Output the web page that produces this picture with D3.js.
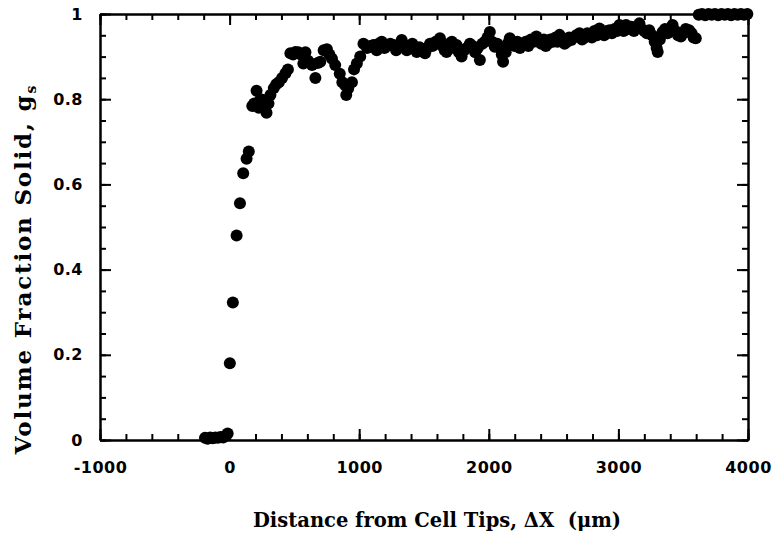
<!DOCTYPE html>
<html>
<head>
<meta charset="utf-8">
<script src="https://cdn.jsdelivr.net/npm/d3@7"></script>
<style>
  body { margin: 0; background: #fff; }
  svg { display: block; }
</style>
</head>
<body>
<div id="chart"></div>
<script>
// distance from cell tips (um) and volume fraction solid
let distance = [
    -190, -170, -150, -130, -110, -90, -70, -50, -30, -15,
    2, 25, 54, 80, 105, 131, 148,
    175, 190, 208, 225, 240, 259, 285, 300, 315, 341, 360, 380, 405, 431, 450,
    469, 490, 508, 530, 550, 569, 585, 605, 620, 636, 662, 680, 700, 726, 751, 770, 790, 815,
    850, 870, 892, 900, 915, 944, 960, 982, 1008, 1033,
    1060, 1085, 1110, 1135, 1150, 1174, 1195, 1215, 1240, 1264, 1285, 1305, 1328, 1345, 1367,
    1390, 1410, 1430, 1444, 1465, 1485, 1508, 1525, 1546, 1565, 1590, 1605, 1623, 1645, 1660,
    1674, 1695, 1715, 1730, 1751, 1770, 1790, 1810, 1830, 1854, 1875, 1895, 1915, 1931, 1950,
    1970, 1990, 2008, 2025, 2046, 2065, 2085, 2100, 2110, 2130, 2145, 2162, 2180, 2200, 2220,
    2240, 2264, 2285, 2305, 2325, 2345, 2367, 2385, 2405, 2425, 2440, 2456, 2475, 2495, 2515,
    2530, 2546, 2565, 2585, 2605, 2620, 2636, 2655, 2675, 2700, 2720, 2740, 2760, 2777, 2795,
    2815, 2835, 2854, 2870, 2890, 2910, 2931, 2950, 2970, 2990, 3008, 3025, 3040, 3059, 3080,
    3100, 3120, 3140, 3162, 3180, 3200, 3220, 3238, 3260, 3280, 3295, 3303, 3320, 3341, 3360,
    3380, 3400, 3418, 3440, 3460, 3482, 3500, 3520, 3546, 3565, 3580, 3597,
    3620, 3645, 3670, 3695, 3720, 3745, 3770, 3795, 3820, 3845, 3870, 3895, 3920, 3945, 3970, 3995
];

let fraction = [
    0.005, 0.003, 0.006, 0.004, 0.006, 0.005, 0.007, 0.006, 0.010, 0.015,
    0.180, 0.323, 0.480, 0.556, 0.626, 0.660, 0.677,
    0.784, 0.790, 0.820, 0.780, 0.800, 0.798, 0.768, 0.790, 0.810, 0.826, 0.835, 0.840, 0.850, 0.861, 0.870,
    0.908, 0.905, 0.911, 0.910, 0.905, 0.884, 0.910, 0.890, 0.885, 0.880, 0.850, 0.885, 0.888, 0.915, 0.917, 0.905, 0.895, 0.880,
    0.860, 0.840, 0.833, 0.810, 0.825, 0.840, 0.870, 0.884, 0.900, 0.930,
    0.920, 0.925, 0.927, 0.915, 0.930, 0.935, 0.920, 0.925, 0.930, 0.927, 0.915, 0.925, 0.939, 0.928, 0.915,
    0.920, 0.930, 0.918, 0.911, 0.922, 0.915, 0.908, 0.920, 0.930, 0.925, 0.935, 0.930, 0.943, 0.925, 0.915,
    0.911, 0.930, 0.935, 0.920, 0.927, 0.910, 0.900, 0.915, 0.920, 0.930, 0.925, 0.910, 0.920, 0.892, 0.930,
    0.935, 0.945, 0.958, 0.935, 0.923, 0.930, 0.920, 0.905, 0.888, 0.910, 0.930, 0.943, 0.935, 0.925, 0.935,
    0.920, 0.930, 0.935, 0.925, 0.940, 0.935, 0.947, 0.935, 0.930, 0.940, 0.925, 0.930, 0.940, 0.935, 0.945,
    0.935, 0.951, 0.940, 0.930, 0.935, 0.945, 0.939, 0.945, 0.950, 0.955, 0.940, 0.945, 0.955, 0.951, 0.945,
    0.960, 0.950, 0.966, 0.955, 0.950, 0.960, 0.962, 0.955, 0.965, 0.960, 0.974, 0.965, 0.960, 0.974, 0.965,
    0.970, 0.960, 0.970, 0.978, 0.965, 0.960, 0.955, 0.962, 0.950, 0.935, 0.920, 0.911, 0.940, 0.958, 0.965,
    0.955, 0.965, 0.974, 0.960, 0.950, 0.947, 0.955, 0.965, 0.962, 0.955, 0.945, 0.943,
    0.998, 1.000, 0.997, 1.000, 0.998, 1.000, 0.997, 1.000, 0.998, 1.000, 0.997, 1.000, 0.998, 1.000, 0.998, 1.000
];

let xTicks = [-1000, 0, 1000, 2000, 3000, 4000],
    yTicks = [0, 0.2, 0.4, 0.6, 0.8, 1],
    xMinor = d3.range(-1000, 4001, 200),
    yMinor = d3.range(0, 1.0001, 0.05);

let width = 775,
    height = 535,
    plotLeft = 100,
    plotTop = 14,
    plotRight = 748,
    plotBottom = 440;

function createGraph() {

    const xScale = d3.scaleLinear()
        .domain([-1000, 4000])
        .range([plotLeft, plotRight]);

    const yScale = d3.scaleLinear()
        .domain([0, 1])
        .range([plotBottom, plotTop]);

    const svg = d3.select("#chart")
        .append("svg")
        .attr("width", width)
        .attr("height", height);

    const points = distance.map((d, i) => [d, fraction[i]]);

    // dots
    svg.append("g")
        .selectAll("circle")
        .data(points)
        .enter()
        .append("circle")
        .attr("cx", d => xScale(d[0]))
        .attr("cy", d => yScale(d[1]))
        .attr("r", 6)
        .attr("fill", "#000");

    // minor ticks, all four sides, pointing in
    svg.append("g")
        .attr("transform", 'translate(0,' + plotBottom + ')')
        .call(d3.axisBottom(xScale).tickValues(xMinor).tickSizeInner(-6).tickSizeOuter(0).tickFormat(""));
    svg.append("g")
        .attr("transform", 'translate(0,' + plotTop + ')')
        .call(d3.axisTop(xScale).tickValues(xMinor).tickSizeInner(-6).tickSizeOuter(0).tickFormat(""));
    svg.append("g")
        .attr("transform", 'translate(' + plotLeft + ',0)')
        .call(d3.axisLeft(yScale).tickValues(yMinor).tickSizeInner(-6).tickSizeOuter(0).tickFormat(""));
    svg.append("g")
        .attr("transform", 'translate(' + plotRight + ',0)')
        .call(d3.axisRight(yScale).tickValues(yMinor).tickSizeInner(-6).tickSizeOuter(0).tickFormat(""));

    // major axes
    const xAxis = d3.axisBottom(xScale)
        .tickValues(xTicks)
        .tickFormat(d => String(d))
        .tickSizeInner(-11)
        .tickSizeOuter(0)
        .tickPadding(22);

    const yAxis = d3.axisLeft(yScale)
        .tickValues(yTicks)
        .tickFormat(d => d === 0 || d === 1 ? String(d) : d3.format('.1f')(d))
        .tickSizeInner(-11)
        .tickSizeOuter(0)
        .tickPadding(17);

    svg.append("g")
        .attr("id", "x-axis")
        .attr("transform", 'translate(0,' + plotBottom + ')')
        .call(xAxis);

    svg.append("g")
        .attr("id", "y-axis")
        .attr("transform", 'translate(' + plotLeft + ',0)')
        .call(yAxis);

    svg.append("g")
        .attr("transform", 'translate(0,' + plotTop + ')')
        .call(d3.axisTop(xScale).tickValues(xTicks).tickSizeInner(-11).tickSizeOuter(0).tickFormat(""));

    svg.append("g")
        .attr("transform", 'translate(' + plotRight + ',0)')
        .call(d3.axisRight(yScale).tickValues(yTicks).tickSizeInner(-11).tickSizeOuter(0).tickFormat(""));

    svg.selectAll(".domain, .tick line")
        .attr("stroke", "#000")
        .attr("stroke-width", 2);

    svg.selectAll(".tick text")
        .attr("fill", "#000")
        .style("font-family", "'DejaVu Sans', sans-serif")
        .style("font-weight", "bold")
        .style("font-size", "16px")
        .style("letter-spacing", "0.5px");

    // axis titles
    svg.append("text")
        .attr("x", 437)
        .attr("y", 527)
        .attr("text-anchor", "middle")
        .attr("xml:space", "preserve")
        .style("font-family", "'DejaVu Serif', serif")
        .style("font-weight", "bold")
        .style("font-size", "19.5px")
        .text("Distance from Cell Tips, \u0394X  (\u03bcm)");

    const yTitle = svg.append("text")
        .attr("transform", 'translate(31,270) rotate(-90)')
        .attr("text-anchor", "middle")
        .style("font-family", "'DejaVu Serif', serif")
        .style("font-weight", "bold")
        .style("font-size", "23px")
        .style("letter-spacing", "1.8px");
    yTitle.append("tspan").text("Volume Fraction Solid, g");
    yTitle.append("tspan")
        .attr("dy", 5)
        .style("font-size", "14px")
        .style("letter-spacing", "0px")
        .text("s");
}

document.addEventListener('DOMContentLoaded', function (e) {
    createGraph();
});
</script>
</body>
</html>
